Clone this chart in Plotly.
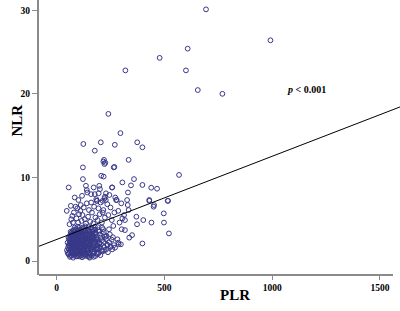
import plotly.graph_objects as go

# ---- data ----
# dense cluster
cl_plr = [62,77,93,118,141,153,172,
          55,69,84,101,113,131,158,187,203,
          51,61,73,87,99,109,124,139,151,168,196,214,238,
          48,57,67,79,91,101,113,121,136,147,161,177,191,209,229,258,
          53,61,71,83,96,104,117,129,141,156,167,183,201,221,249,271,
          56,65,74,89,97,111,119,133,144,159,171,189,206,234,266,298,
          51,63,71,83,93,103,116,127,137,151,164,181,197,219,244,286,
          59,67,81,91,99,113,123,137,149,161,177,191,211,229,256,
          55,65,79,87,97,109,121,131,146,157,171,185,203,226,261,
          63,73,87,95,107,117,131,143,154,169,181,201,221,247,
          69,83,93,105,115,129,139,153,165,181,197,219,
          77,89,101,111,125,135,151,163,179,194,216,
          84,97,107,121,133,149,161,177,191,211,
          75,86,95,106,118,128,145,162,70,82,92,108,125,135,150,170,
          78,88,102,114,130,142,155,175,72,85,98,110,122,138,152,166]
cl_nlr = [0.5,0.4,0.55,0.45,0.6,0.4,0.5,
          0.8,0.7,0.85,0.75,0.7,0.8,0.75,0.85,0.7,
          1.0,1.1,1.05,0.95,1.15,1.0,1.1,1.05,0.95,1.1,1.0,1.15,1.05,
          1.3,1.4,1.35,1.45,1.3,1.4,1.25,1.4,1.35,1.3,1.45,1.35,1.4,1.3,1.35,1.4,
          1.6,1.7,1.65,1.55,1.7,1.6,1.75,1.65,1.6,1.7,1.65,1.6,1.7,1.65,1.7,1.6,
          1.9,2.0,1.95,2.05,1.9,2.0,1.95,1.85,2.0,1.95,2.05,1.9,2.0,1.95,1.9,2.0,
          2.2,2.3,2.25,2.2,2.35,2.25,2.2,2.3,2.25,2.15,2.3,2.25,2.2,2.3,2.25,2.2,
          2.5,2.6,2.55,2.5,2.65,2.55,2.5,2.6,2.55,2.5,2.6,2.55,2.5,2.6,2.55,
          2.8,2.9,2.85,2.8,2.95,2.85,2.8,2.9,2.85,2.8,2.9,2.85,2.8,2.9,2.85,
          3.1,3.2,3.15,3.1,3.25,3.15,3.1,3.2,3.15,3.1,3.2,3.15,3.1,3.2,
          3.4,3.5,3.45,3.4,3.55,3.45,3.4,3.5,3.45,3.4,3.5,3.45,
          3.7,3.8,3.75,3.7,3.85,3.75,3.7,3.8,3.75,3.7,3.8,
          4.0,4.1,4.05,4.0,4.15,4.05,4.0,4.1,4.05,4.0,
          1.2,1.25,1.2,1.3,1.2,1.25,1.2,1.3,1.8,1.85,1.8,1.8,1.85,1.8,1.85,1.8,
          2.4,2.45,2.4,2.4,2.45,2.4,2.45,2.4,3.0,3.0,3.05,3.0,3.0,3.05,3.0,3.0]

# extra points filling the core of the cluster
core_plr = [66,80,90,104,116,127,146,164,180,
            58,74,94,107,122,134,149,171,192,
            64,79,96,112,126,143,160,184,
            60,76,92,106,120,140,156,174,198,
            68,86,100,114,132,147,166,186,
            73,90,104,119,134,156,173,
            80,98,113,128,145,170]
core_nlr = [0.6,0.65,0.6,0.55,0.65,0.6,0.6,0.65,0.6,
            0.9,0.95,0.9,0.85,0.9,0.95,0.9,0.9,0.85,
            1.5,1.5,1.55,1.5,1.45,1.5,1.55,1.5,
            2.1,2.1,2.15,2.1,2.05,2.1,2.1,2.15,2.1,
            2.7,2.7,2.75,2.7,2.65,2.7,2.7,2.75,
            3.3,3.3,3.35,3.3,3.3,3.35,3.3,
            3.6,3.6,3.65,3.6,3.6,3.6]

# mid-range points
mid_plr = [217,235,245,229,177,195,186,101,112,96,47,73,263,243,
           302,305,313,286,279,334,330,317,370,373,402,440,398,521,498,497,515,
           430,452,450,350,337,317,288,282,237,252,232,220,191,152,65,59,
           60,68,80,88,92,100,104,110,116,120,126,131,136,140,146,150,156,160,
           164,170,174,180,184,190,194,200,204,210,214,224,228,240,250,256,268,
           272,292,300,84,118,142,160,66,76,222,224,276,327,430,517,187,214]
mid_nlr = [6.1,6.8,7.9,8.1,8.0,8.1,7.2,7.3,6.7,6.3,6.0,5.4,4.2,3.8,
           3.8,5.1,5.5,6.0,7.3,6.1,6.7,4.9,5.3,4.4,4.9,4.6,2.1,3.3,4.6,5.7,7.2,
           7.2,6.7,6.5,3.1,2.8,3.7,2.0,2.6,1.9,1.7,3.0,1.3,1.5,0.5,3.5,2.7,
           4.4,5.0,5.8,6.5,5.1,4.6,5.6,6.0,4.8,5.5,6.4,5.0,4.5,6.9,5.3,6.1,4.7,7.0,
           5.8,4.5,6.5,5.2,7.4,4.9,6.3,5.6,7.0,4.6,5.8,5.2,7.3,5.5,6.4,4.9,5.8,
           7.6,4.6,6.9,7.6,7.8,8.2,8.0,6.6,4.6,7.5,7.7,7.3,7.3,7.3,7.2,7.2,7.2]

# high points
hi_plr = [693,992,769,655,608,600,478,319,240,296,124,205,177,270,374,398,
          334,220,217,226,222,265,268,207,218,568,305,359,345,398,257,439,466,
          122,122,56,136,140,172,198,201,258,331]
hi_nlr = [30.1,26.4,20.0,20.45,25.4,22.8,24.3,22.8,17.6,15.3,14.0,14.2,13.2,13.9,14.2,13.6,
          12.1,12.1,11.9,11.75,11.6,11.2,11.25,10.2,10.1,10.3,9.4,9.8,9.05,9.1,8.8,8.77,8.65,
          11.2,9.8,8.8,9.0,8.5,8.8,9.0,8.6,8.8,8.2]

plr = cl_plr + core_plr + mid_plr + hi_plr
nlr = cl_nlr + core_nlr + mid_nlr + hi_nlr

fit_intercept = 2.58
fit_slope = 0.00995
fit_x = [-82, 1593]
fit_y = [fit_intercept + fit_slope * v for v in fit_x]

x_ticks = [0, 500, 1000, 1500]
y_ticks = [0, 10, 20, 30]

serif = "Liberation Serif, Times New Roman, serif"
gray = "#8a8a8a"
mcol = "#383888"

fig = go.Figure()
fig.add_trace(go.Scatter(x=plr, y=nlr, mode="markers",
                         marker=dict(symbol="circle-open", size=4.8, color=mcol,
                                     line=dict(width=1, color=mcol)),
                         showlegend=False, hoverinfo="skip"))
fig.add_trace(go.Scatter(x=fit_x, y=fit_y, mode="lines",
                         line=dict(color="black", width=1), showlegend=False,
                         hoverinfo="skip"))

fig.update_layout(
    width=400, height=311,
    margin=dict(l=39, r=0, t=0, b=36, autoexpand=False),
    paper_bgcolor="white", plot_bgcolor="white",
    xaxis=dict(range=[-81.7, 1593], showgrid=False, zeroline=False, showline=False,
               automargin=False,
               tickmode="array", tickvals=x_ticks, ticks="outside", ticklen=4,
               tickcolor=gray, tickwidth=1,
               tickfont=dict(family=serif, size=9.5, color="black", weight="bold")),
    yaxis=dict(range=[-1.67, 31.22], showgrid=False, zeroline=False, showline=True,
               automargin=False,
               linecolor=gray, linewidth=2,
               tickmode="array", tickvals=y_ticks, ticks="outside", ticklen=5,
               tickcolor=gray, tickwidth=1,
               tickfont=dict(family=serif, size=9.5, color="black", weight="bold")),
    shapes=[dict(type="line", xref="paper", yref="paper", x0=0, x1=(393 - 39) / 361,
                 y0=0, y1=0, line=dict(color=gray, width=2))],
    annotations=[
        dict(text="<i>p</i> < 0.001", xref="paper", yref="paper", x=0.8006, y=0.7018,
             showarrow=False, font=dict(family=serif, size=10, color="black", weight="bold")),
        dict(text="NLR", xref="paper", yref="paper", x=-0.0873, y=0.5636, textangle=-90,
             showarrow=False, font=dict(family=serif, size=15, color="black", weight="bold")),
        dict(text="PLR", xref="paper", yref="paper", x=0.543, y=-0.109,
             showarrow=False, font=dict(family=serif, size=15, color="black", weight="bold")),
    ],
)

fig.write_html("out.html", config={"displayModeBar": False},
               post_script="document.body.style.margin='0';document.body.style.overflow='hidden';")
